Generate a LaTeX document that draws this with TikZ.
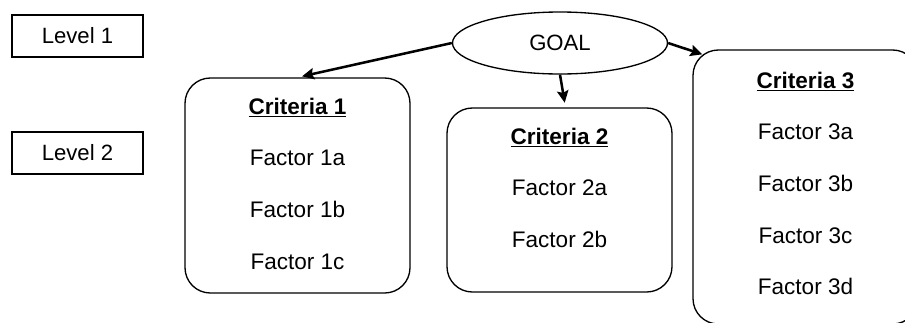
\documentclass[tikz,border=0pt]{standalone}
\usepackage{fontspec}
\setmainfont{Liberation Sans}
\usetikzlibrary{arrows.meta,shapes.geometric,positioning}

\newcommand{\crit}[1]{\underline{\textbf{#1}}}

\begin{document}
\begin{tikzpicture}[x=0.75pt,y=-0.75pt,->,>={Stealth[length=9pt,width=8.5pt,inset=1.5pt]},shorten >=3.5pt]
		\tikzstyle{levelbox}=[rectangle, draw=black, line width=1.2pt, minimum width=98.25pt, minimum height=31.5pt, inner sep=0pt, font=\fontsize{16.6}{20}\selectfont]
		\tikzstyle{critbox}=[rectangle, rounded corners=19pt, draw=black, line width=1pt, inner sep=0pt, font=\fontsize{16.9}{38.8}\selectfont]
		\tikzstyle{goalnode}=[ellipse, draw=black, line width=1pt, minimum width=161.25pt, minimum height=46.5pt, inner sep=0pt, font=\fontsize{16.6}{20}\selectfont]
		\tikzstyle{every edge}=[draw=black, line width=1.9pt]
		
		\useasboundingbox (0,0) rectangle (905,322);
		
		\node[levelbox]      (lev1) at (77.5,36)    {Level 1};
		\node[levelbox]      (lev2) at (77.5,153)   {Level 2};
		\node[goalnode]      (goal) at (560,43)     {GOAL};
		\node[critbox]       (c1)   at (297.5,185.5) {\parbox[c][161.25pt][t]{168.75pt}{\centering\rule{0pt}{27pt}\crit{Criteria 1}\\Factor 1a\\Factor 1b\\Factor 1c}};
		\node[critbox]       (c2)   at (559.5,200)   {\parbox[c][138pt][t]{168.75pt}{\centering\rule{0pt}{27pt}\crit{Criteria 2}\\Factor 2a\\Factor 2b}};
		\node[critbox]       (c3)   at (805.5,187)   {\parbox[c][205.5pt][t]{168.75pt}{\centering\rule{0pt}{28.5pt}\crit{Criteria 3}\\Factor 3a\\Factor 3b\\Factor 3c\\Factor 3d}};
		
		\path (goal.west) edge node{} (c1.north);
		\path (goal.south) edge node{} ([xshift=4.5pt]c2.north);
		\path (goal.east) edge[shorten >=0pt] node{} ([xshift=7.5pt,yshift=-3.75pt]c3.north west);
		\end{tikzpicture}
\end{document}
